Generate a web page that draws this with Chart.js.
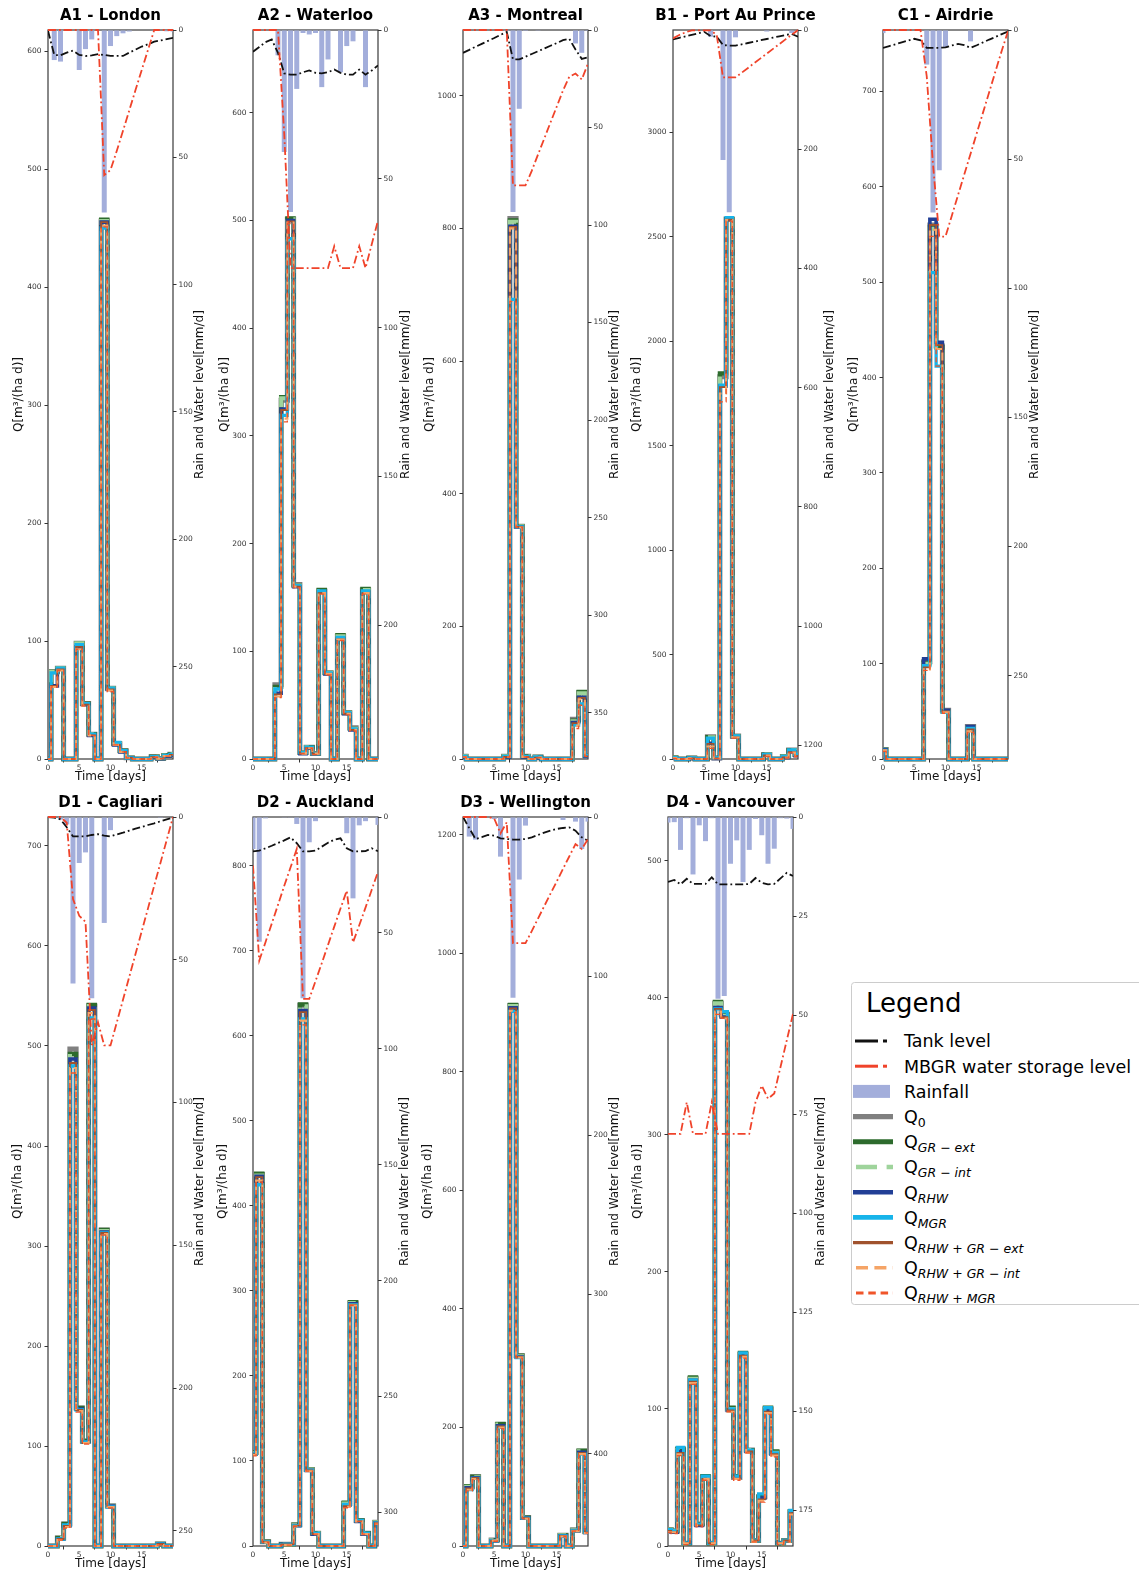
<!DOCTYPE html>
<html>
<head>
<meta charset="utf-8">
<title>Runoff and storage levels</title>
<script src="https://cdn.jsdelivr.net/npm/chart.js@4.4.1/dist/chart.umd.min.js"></script>
<style>
  html, body { margin: 0; padding: 0; background: #fff; width: 1139px; height: 1576px; overflow: hidden; }
  #page { position: relative; width: 1139px; height: 1576px; }
  canvas.panel { position: absolute; }
  #legend { position: absolute; left: 851px; top: 982px; }
</style>
</head>
<body>
<div id="page"></div>
<script>
// ---------------- data ----------------
const days = [0,1,2,3,4,5,6,7,8,9,10,11,12,13,14,15,16,17,18,19,20];
const dayTicks = [0,5,10,15];

const panelTitles = ['A1 - London','A2 - Waterloo','A3 - Montreal','B1 - Port Au Prince','C1 - Airdrie',
                     'D1 - Cagliari','D2 - Auckland','D3 - Wellington','D4 - Vancouver'];

// left axis (Q) range and ticks
const qAxisMax = [617.8, 676.8, 1099, 3490, 764.5, 729, 857.6, 1230, 532];
const qTicks = [
  [0,100,200,300,400,500,600],
  [0,100,200,300,400,500,600],
  [0,200,400,600,800,1000],
  [0,500,1000,1500,2000,2500,3000],
  [0,100,200,300,400,500,600,700],
  [0,100,200,300,400,500,600,700],
  [0,100,200,300,400,500,600,700,800],
  [0,200,400,600,800,1000,1200],
  [0,100,200,300,400,500]
];
// right axis (rain / water level, inverted) range and ticks
const levelAxisMax = [286.3, 245, 373.8, 1223, 282.3, 255.3, 314.5, 458, 184];
const levelTicks = [
  [0,50,100,150,200,250],
  [0,50,100,150,200],
  [0,50,100,150,200,250,300,350],
  [0,200,400,600,800,1000,1200],
  [0,50,100,150,200,250],
  [0,50,100,150,200,250],
  [0,50,100,150,200,250,300],
  [0,100,200,300,400],
  [0,25,50,75,100,125,150,175]
];

const rainfall = [
  [0,11.8,12.4,0,0,15.7,7.5,3.7,0,71.7,6.3,2.4,1.3,0.6,0,0,0,0.3,0,0.5,0.6],
  [0,0,0,0,8.5,41,61.2,19.8,1,1.5,1,19.2,9.9,0,14.2,5.4,3.8,0,19.2,0,0],
  [0.5,0,0,0,0,0,0,0.5,93.3,40.4,0.5,0,0.4,0,0,0,0,0,6.9,11.7,0.5],
  [0.7,0,0,0.6,0,0,11.2,0.6,218,305.8,12.3,0,0,0,0,2.6,0,0,1.4,5.1,2.6],
  [1.2,0,0,0,0,0,0,13.4,70.7,54.3,6.9,0,0,0,4.4,0,0,0,0,0,0],
  [0,0,0.9,2.6,58.3,16.1,12.4,63.5,0,37.1,4.6,0,0,0,0,0,0,0,0.3,0,0],
  [13.8,53.8,0.6,0,0,0.3,0.3,3,78.2,10.9,1.8,0,0,0,0,7,35.1,3.6,1.8,0,3.4],
  [0,12.3,14.2,0,0,1.3,24.9,0,113.6,39.3,5.4,0,0,0,0,0,1.9,0,2.9,20.1,2.9],
  [1.4,1.3,8.3,0.3,14.5,2.1,6.1,0.3,45.9,45.2,11.8,5.9,16.4,8.3,0.5,4.6,11.8,8.0,0.3,0.4,3.0]
];

const tankLevel = [
  [0.3,9.8,9.9,8.9,8.1,9.8,10.2,10,9.5,9.8,10.2,10.2,10.2,8.9,7.7,6.5,5.6,4.6,4.1,3.6,3.1],
  [7.3,5.7,4.1,3.2,7.7,14.6,15,15,14.2,13.6,14.4,14.6,14.2,13.3,14.4,15,15,13.3,15,13.6,11.9],
  [11.7,10.2,8.6,7.1,5.6,4.1,2.5,1.0,15.1,15.1,13.7,12.3,10.9,9.5,8.1,6.7,5.2,4.5,10,14.8,14],
  [15.7,13.1,10.6,8.1,5.6,3.1,10.1,11.2,25.2,26.3,26.3,24,21.8,19.6,17.3,15.1,12.9,10.6,8.4,6.7,11.2],
  [6.9,6.2,5.5,4.8,4.1,3.4,4.0,6.9,6.9,6.9,6.7,6.0,5.4,5.9,6.9,5.9,4.8,3.7,2.7,1.6,0.6],
  [0,0.2,0.8,3.6,6.8,6.8,6.8,6.3,6.0,6.5,6.8,6.1,5.5,4.8,4.1,3.5,2.8,2.2,1.5,0.8,0.2],
  [14.8,14.5,13.5,12.4,11.2,10.1,8.8,11.3,14.8,14.8,14.5,12.8,11.1,9.8,9.2,13.5,14.8,14.8,14.7,13.5,14.8],
  [0,7,13.8,12.7,11.3,11.7,13.4,13.8,14.2,14.2,13.8,12.8,11.3,9.8,8.6,7.5,6.9,6.5,8.6,12.8,14.9],
  [16.4,15.9,17.0,15.6,16.9,16.9,16.9,15.2,17.0,17.0,17.0,17.0,17.0,16.9,15.4,16.6,17.0,16.9,15.5,14.1,14.9]
];

const mbgrLevel = [
  [0,0,0,0,0,0,0,0,0,57,55,47.5,39.6,31.6,23.6,15.7,7.8,0,0,0,0],
  [0,0,0,0,0,35,80,80,80,80,80,80,80,72.7,80,80,80,72.7,80,72,64],
  [0,0,0,0,0,0,0,0,79.7,79.7,79.7,72.2,63.9,55.7,47.4,39.3,31,24,22.3,25.4,17.2],
  [14,8.4,3.9,0.5,0.5,0.5,0.5,8.4,79.4,79.4,79.4,71.6,63.6,55.5,47.6,39.7,31.7,23.7,15.7,7.9,0],
  [0,0,0,0,0,0,0,18,52,80,80,72,64,56,48,40,32,24,16,8,0.5],
  [0,0,0,2,28.7,34.6,36.7,80,71.9,80,80,72,64,56,48,40,32,24,16,8,0],
  [21,62,54,46,37.9,29.7,21.8,13.8,78.5,78.5,70.8,63.1,55.2,47.3,39.5,31.8,54.1,46.7,39.1,31.4,23.6],
  [0,0,0,0,0,1,10.3,3.3,79.3,79.3,79.3,71.7,63.8,56,48.2,40.5,32.6,24.8,17,20.1,13.8],
  [80,80,80,72,80,80,80,72,80,80,80,80,80,80,72,67.8,71.1,69.8,63.1,56.4,49.7]
];

const q0 = [
  [0,74,77,0,0,98,47,21,0,456,60,13,7,1,0,0,0,2,0.5,3,4],
  [0,0,0,0,69,333,501,162,6,11,5,156,80,0,114,43,29,0,157,0,0],
  [4,0,0,0,0,0,0,4,815,351,4,0,3,0,0,0,0,0,60,100,5],
  [6,0,0,5,0,0,107,5,1830,2585,110,0,0,0,0,22,0,0,12,43,22],
  [10,0,0,0,0,0,0,102,560,433,51,0,0,0,34,0,0,0,0,0,0],
  [0,0,8,22,497,138,105,540,0,316,40,0,0,0,0,0,0,0,2,0,0],
  [110,437,5,0,0,2,2,25,636,90,15,0,0,0,0,50,286,30,15,0,28],
  [0,100,117,0,0,10,205,0,912,321,48,0,0,0,0,0,18,0,27,160,24],
  [12,11,70,2,122,16,50,2,396,388,100,50,140,70,4,36,100,68,2,4,25]
];
const qGrExt = [
  [0,74,77,0,0,98,47,21,0,457,60,13,7,1,0,0,0,2,0.5,3,4],
  [0,0,0,0,67,336,502,161,6,11,5,157,80,0,115,43,28,0,158,0,0],
  [4,0,0,0,0,0,0,4,812,351,4,0,3,0,0,0,0,0,58,101,5],
  [6,0,0,5,0,0,105,5,1846,2585,108,0,0,0,0,21,0,0,12,42,21],
  [10,0,0,0,0,0,0,101,558,432,50,0,0,0,33,0,0,0,0,0,0],
  [0,0,8,22,492,138,105,541,0,316,40,0,0,0,0,0,0,0,2,0,0],
  [110,438,5,0,0,2,2,25,637,90,15,0,0,0,0,51,287,30,15,0,28],
  [0,101,117,0,0,10,206,0,913,321,48,0,0,0,0,0,18,0,27,161,24],
  [12,11,71,2,123,16,51,2,397,388,101,51,141,70,4,36,101,69,2,4,25]
];
const qGrInt = [
  [0,74,77,0,0,98,47,21,0,456,60,13,7,1,0,0,0,2,0.5,3,4],
  [0,0,0,0,67,335,501,161,6,11,5,156,80,0,114,43,28,0,157,0,0],
  [4,0,0,0,0,0,0,4,810,351,4,0,3,0,0,0,0,0,57,99,5],
  [6,0,0,5,0,0,104,5,1840,2584,108,0,0,0,0,21,0,0,12,42,21],
  [10,0,0,0,0,0,0,100,556,431,50,0,0,0,33,0,0,0,0,0,0],
  [0,0,8,21,490,137,104,540,0,315,40,0,0,0,0,0,0,0,2,0,0],
  [109,436,5,0,0,2,2,25,635,90,15,0,0,0,0,50,286,30,15,0,28],
  [0,100,116,0,0,10,205,0,911,320,48,0,0,0,0,0,18,0,27,160,24],
  [12,11,70,2,122,16,50,2,396,387,100,50,140,70,4,36,100,68,2,4,25]
];
const qRhw = [
  [0,62,76,0,0,95,46,20,0,455,59,12,6,1,0,0,0,1.5,0.3,2.5,3.5],
  [0,0,0,0,61,325,500,160,5,10,5,155,79,0,112,42,27,0,155,0,0],
  [3,0,0,0,0,0,0,3,803,350,3,0,2,0,0,0,0,0,55,93,4],
  [4,0,0,3,0,0,75,3,1786,2583,105,0,0,0,0,18,0,0,8,34,16],
  [10,0,0,0,0,0,0,105,566,437,51,0,0,0,34,0,0,0,0,0,0],
  [0,0,7,20,487,137,104,538,0,314,40,0,0,0,0,0,0,0,2,0,0],
  [108,435,5,0,0,2,2,24,630,89,14,0,0,0,0,48,285,29,14,0,27],
  [0,98,115,0,0,9,203,0,908,319,47,0,0,0,0,0,17,0,26,158,23],
  [11,10,69,2,121,15,50,2,393,386,99,50,139,69,4,35,99,67,2,4,24]
];
const qMgr = [
  [0,73,77,0,0,97,47,21,0,450,60,14,7,1,0,0,0,2,0.5,3,4],
  [0,0,0,0,65,319,483,161,6,11,5,156,80,0,113,43,28,0,156,0,0],
  [4,0,0,0,0,0,0,4,693,350,4,0,3,0,0,0,0,0,51,83,5],
  [6,0,0,5,0,0,100,5,1790,2592,110,0,0,0,0,22,0,0,12,43,22],
  [9,0,0,0,0,0,0,98,510,412,49,0,0,0,32,0,0,0,0,0,0],
  [0,0,7,21,480,136,104,528,0,313,39,0,0,0,0,0,0,0,2,0,0],
  [108,425,5,0,0,2,2,24,620,89,15,0,0,0,0,49,284,30,15,0,27],
  [0,95,114,0,0,9,200,0,902,318,47,0,0,0,0,0,17,0,26,155,23],
  [12,11,72,2,121,16,51,2,392,390,100,51,141,70,4,38,101,68,2,4,26]
];
const qRhwGrExt = [
  [0,62,76,0,0,95,46,20,0,455,59,12,6,1,0,0,0,1.5,0.3,2.5,3.5],
  [0,0,0,0,60,324,499,160,5,10,5,154,79,0,111,42,27,0,154,0,0],
  [3,0,0,0,0,0,0,3,802,350,3,0,2,0,0,0,0,0,54,92,4],
  [4,0,0,3,0,0,72,3,1780,2582,104,0,0,0,0,17,0,0,8,33,15],
  [9,0,0,0,0,0,0,96,560,434,50,0,0,0,31,0,0,0,0,0,0],
  [0,0,7,20,483,136,103,536,0,313,39,0,0,0,0,0,0,0,2,0,0],
  [108,434,5,0,0,2,2,24,628,89,14,0,0,0,0,47,284,29,14,0,27],
  [0,97,115,0,0,9,202,0,907,319,47,0,0,0,0,0,17,0,26,157,23],
  [11,10,68,2,120,15,49,2,392,386,99,49,139,69,4,34,98,67,2,4,24]
];
const qRhwGrInt = [
  [0,61,75,0,0,93,45,20,0,452,58,12,6,1,0,0,0,1.5,0.3,2.5,3.5],
  [0,0,0,0,58,316,498,160,5,10,5,154,79,0,111,42,27,0,154,0,0],
  [3,0,0,0,0,0,0,3,800,349,3,0,2,0,0,0,0,0,50,90,4],
  [4,0,0,3,0,0,60,3,1750,2580,103,0,0,0,0,16,0,0,7,31,13],
  [9,0,0,0,0,0,0,94,555,430,49,0,0,0,29,0,0,0,0,0,0],
  [0,0,6,19,478,135,103,533,0,312,39,0,0,0,0,0,0,0,1,0,0],
  [107,430,4,0,0,1,1,23,618,88,14,0,0,0,0,46,283,29,14,0,26],
  [0,95,113,0,0,9,200,0,903,318,46,0,0,0,0,0,16,0,25,155,22],
  [10,10,67,2,119,15,49,2,390,385,98,49,138,68,3,33,97,66,2,3,23]
];
const qRhwMgr = [
  [0,61,75,0,0,93,45,20,0,451,57,12,6,1,0,0,0,1.5,0.3,2.5,3.5],
  [0,0,0,0,57,313,497,159,5,10,4,153,78,0,110,41,26,0,153,0,0],
  [3,0,0,0,0,0,0,3,690,349,3,0,2,0,0,0,0,0,46,81,4],
  [3,0,0,2,0,0,51,2,1710,2575,100,0,0,0,0,12,0,0,5,29,10],
  [8,0,0,0,0,0,0,93,548,412,48,0,0,0,28,0,0,0,0,0,0],
  [0,0,6,18,473,134,102,527,0,311,38,0,0,0,0,0,0,0,1,0,0],
  [106,428,4,0,0,1,1,23,613,88,14,0,0,0,0,45,283,29,14,0,26],
  [0,93,112,0,0,8,198,0,900,317,46,0,0,0,0,0,16,0,25,153,22],
  [10,9,66,1,118,14,48,1,388,385,98,48,137,68,3,32,96,65,1,3,22]
];

// ---------------- styles and layout ----------------
const FONT = 'DejaVu Sans';
const Q_LABEL = 'Q[m\u00b3/(ha d)]';
const LEVEL_LABEL = 'Rain and Water level[mm/d]';
const TIME_LABEL = 'Time [days]';

const RAIN_COLOR = '#a3aedb';
const TANK_COLOR = '#111111';
const MBGR_COLOR = '#f0432a';

// runoff series, drawn bottom (first) to top (last)
const flowSeries = [
  { values: q0,        color: '#808080', width: 5,   dash: [],      legendWidth: 5.3 },
  { values: qGrExt,    color: '#2d6b2d', width: 4.3, dash: [],      legendWidth: 5 },
  { values: qGrInt,    color: '#9fd49c', width: 4,   dash: [14, 6], legendWidth: 4.5 },
  { values: qRhw,      color: '#223f96', width: 3.6, dash: [],      legendWidth: 4.6 },
  { values: qMgr,      color: '#17b4ea', width: 3.3, dash: [],      legendWidth: 4.6 },
  { values: qRhwGrExt, color: '#a0522d', width: 1.8, dash: [],      legendWidth: 3.4 },
  { values: qRhwGrInt, color: '#f5a466', width: 2.1, dash: [8, 4],  legendWidth: 3.4 },
  { values: qRhwMgr,   color: '#f0552a', width: 1.3, dash: [5, 3],  legendWidth: 3 }
];

// plot-area origin of each panel
const panelBoxes = [
  {x: 48,  y: 30}, {x: 253, y: 30}, {x: 463, y: 30}, {x: 673, y: 30}, {x: 883, y: 30},
  {x: 48,  y: 817}, {x: 253, y: 817}, {x: 463, y: 817}, {x: 668, y: 817}
];
const leftLabelGap  = [29.5, 28, 33, 36, 29, 30, 30, 35, 30];
const rightLabelGap = [27, 28, 27, 32, 27, 27, 27, 27, 28];

const PLOT_W = 125, PLOT_H = 729;
const LEFT_GUTTER = 45, RIGHT_GUTTER = 42, XAXIS_H = 30;

Chart.defaults.font.family = FONT;

function toXY(vals) { return vals.map((v, i) => ({ x: days[i], y: v })); }

// frame around the plot area, drawn under the data
const framePlugin = {
  id: 'frame',
  beforeDatasetsDraw(chart) {
    const a = chart.chartArea, ctx = chart.ctx;
    ctx.save();
    ctx.strokeStyle = '#3a3a3a';
    ctx.lineWidth = 1.2;
    ctx.strokeRect(a.left, a.top, a.right - a.left, a.bottom - a.top);
    ctx.restore();
  }
};

// panel title and axis titles
const textPlugin = {
  id: 'panelText',
  afterDraw(chart) {
    const o = chart.options.plugins.panelText;
    const a = chart.chartArea, ctx = chart.ctx;
    const cx = (a.left + a.right) / 2, cy = (a.top + a.bottom) / 2;
    ctx.save();
    ctx.fillStyle = '#000';
    ctx.textAlign = 'center';
    ctx.textBaseline = 'middle';
    ctx.font = 'bold 15px "' + FONT + '"';
    ctx.fillText(o.title, cx, a.top - 13.5);
    ctx.font = '12px "' + FONT + '"';
    ctx.fillStyle = '#111';
    ctx.fillText(TIME_LABEL, cx, a.bottom + 18);
    ctx.save();
    ctx.translate(a.left - o.leftGap, cy);
    ctx.rotate(-Math.PI / 2);
    ctx.fillText(Q_LABEL, 0, 0);
    ctx.restore();
    ctx.save();
    ctx.translate(a.right + o.rightGap, cy);
    ctx.rotate(-Math.PI / 2);
    ctx.fillText(LEVEL_LABEL, 0, 0);
    ctx.restore();
    ctx.restore();
  }
};

const tickGrid = { display: true, drawOnChartArea: false, drawTicks: true, tickLength: 3.5, color: '#333', lineWidth: 1 };
const tickFont = { family: FONT, size: 7.5 };
const lineClip = { left: 0, top: 3, right: 0, bottom: 3 };

const page = document.getElementById('page');

panelBoxes.forEach((box, p) => {
  const canvasTop = p < 5 ? 0 : 790;
  const padTop = box.y - canvasTop;
  const w = LEFT_GUTTER + PLOT_W + RIGHT_GUTTER;
  const h = padTop + PLOT_H + XAXIS_H;
  const canvas = document.createElement('canvas');
  canvas.className = 'panel';
  canvas.width = w; canvas.height = h;
  canvas.style.left = (box.x - LEFT_GUTTER) + 'px';
  canvas.style.top = canvasTop + 'px';
  canvas.style.width = w + 'px';
  canvas.style.height = h + 'px';
  page.appendChild(canvas);

  const datasets = [];
  datasets.push({
    type: 'bar', data: toXY(rainfall[p]), xAxisID: 'x', yAxisID: 'yR',
    backgroundColor: RAIN_COLOR, borderWidth: 0,
    barPercentage: 0.8, categoryPercentage: 1.0, order: 30
  });
  flowSeries.forEach((s, k) => {
    datasets.push({
      type: 'line', data: toXY(s.values[p]), xAxisID: 'x', yAxisID: 'yL',
      borderColor: s.color, borderWidth: s.width, borderDash: s.dash,
      stepped: 'middle', pointRadius: 0, fill: false, tension: 0,
      borderCapStyle: 'butt', borderJoinStyle: 'miter',
      clip: lineClip, order: 20 - k
    });
  });
  datasets.push({
    type: 'line', data: toXY(tankLevel[p]), xAxisID: 'x', yAxisID: 'yR',
    borderColor: TANK_COLOR, borderWidth: 1.8, borderDash: [8, 3, 1.8, 3],
    pointRadius: 0, fill: false, tension: 0, clip: lineClip, order: 2
  });
  datasets.push({
    type: 'line', data: toXY(mbgrLevel[p]), xAxisID: 'x', yAxisID: 'yR',
    borderColor: MBGR_COLOR, borderWidth: 1.8, borderDash: [8, 3, 1.8, 3],
    pointRadius: 0, fill: false, tension: 0, clip: lineClip, order: 1
  });

  new Chart(canvas, {
    type: 'line',
    data: { datasets },
    plugins: [framePlugin, textPlugin],
    options: {
      responsive: false,
      maintainAspectRatio: false,
      devicePixelRatio: 1,
      animation: false,
      events: [],
      layout: { padding: { top: padTop, left: 0, right: 0, bottom: 0 } },
      plugins: {
        legend: { display: false },
        tooltip: { enabled: false },
        panelText: { title: panelTitles[p], leftGap: leftLabelGap[p], rightGap: rightLabelGap[p] }
      },
      scales: {
        x: {
          type: 'linear', min: 0, max: 20, offset: false,
          afterBuildTicks: s => { s.ticks = dayTicks.map(v => ({ value: v })); },
          afterFit: s => { s.height = XAXIS_H; },
          grid: tickGrid, border: { display: false },
          ticks: { font: tickFont, color: '#333', padding: 1, maxRotation: 0, autoSkip: false,
                   callback: v => String(v) }
        },
        yL: {
          type: 'linear', position: 'left', min: 0, max: qAxisMax[p],
          afterBuildTicks: s => { s.ticks = qTicks[p].map(v => ({ value: v })); },
          afterFit: s => { s.width = LEFT_GUTTER; },
          grid: tickGrid, border: { display: false },
          ticks: { font: tickFont, color: '#333', padding: 3, autoSkip: false, callback: v => String(v) }
        },
        yR: {
          type: 'linear', position: 'right', min: 0, max: levelAxisMax[p], reverse: true,
          afterBuildTicks: s => { s.ticks = levelTicks[p].map(v => ({ value: v })); },
          afterFit: s => { s.width = RIGHT_GUTTER; },
          grid: tickGrid, border: { display: false },
          ticks: { font: tickFont, color: '#333', padding: 2, autoSkip: false, callback: v => String(v) }
        }
      }
    }
  });
});

// ---------------- legend ----------------
const legendRows = [
  { text: 'Tank level', kind: 'dashdot', color: TANK_COLOR },
  { text: 'MBGR water storage level', kind: 'dashdot', color: MBGR_COLOR },
  { text: 'Rainfall', kind: 'patch', color: RAIN_COLOR },
  { sub: ['0'], upright: true, s: flowSeries[0] },
  { sub: ['GR', 'ext'], s: flowSeries[1] },
  { sub: ['GR', 'int'], s: flowSeries[2] },
  { sub: ['RHW'], s: flowSeries[3] },
  { sub: ['MGR'], s: flowSeries[4] },
  { sub: ['RHW + GR', 'ext'], s: flowSeries[5] },
  { sub: ['RHW + GR', 'int'], s: flowSeries[6] },
  { sub: ['RHW + MGR'], s: flowSeries[7] }
];

(function buildLegend() {
  const W = 300, H = 323;
  let svg = '<svg id="legend" xmlns="http://www.w3.org/2000/svg" width="' + W + '" height="' + H + '" font-family="DejaVu Sans">';
  svg += '<rect x="0.5" y="0.5" width="' + (W - 1) + '" height="' + (H - 1) + '" rx="3" fill="#fff" stroke="#cccccc" stroke-width="1"/>';
  svg += '<text x="15" y="30" font-size="26" fill="#000">Legend</text>';
  legendRows.forEach((r, i) => {
    const cy = 59 + i * 25.2;
    if (r.kind === 'dashdot') {
      svg += '<line x1="4" y1="' + cy + '" x2="27" y2="' + cy + '" stroke="' + r.color + '" stroke-width="3"/>';
      svg += '<line x1="32" y1="' + cy + '" x2="36" y2="' + cy + '" stroke="' + r.color + '" stroke-width="3"/>';
    } else if (r.kind === 'patch') {
      svg += '<rect x="2" y="' + (cy - 6.5) + '" width="37" height="13" fill="' + r.color + '"/>';
    } else {
      const s = r.s;
      const dash = s.dash.length ? ' stroke-dasharray="' + (s.dash[0] * 1.5) + ' ' + (s.dash[1] * 1.6) + '"' : '';
      svg += '<line x1="' + (s.dash.length ? 5 : 2) + '" y1="' + cy + '" x2="42" y2="' + cy + '" stroke="' + s.color + '" stroke-width="' + s.legendWidth + '"' + dash + '/>';
    }
    svg += '<text x="53" y="' + (cy + 6.3) + '" font-size="17.5" fill="#000">';
    if (r.text) {
      svg += r.text;
    } else {
      svg += 'Q';
      if (r.upright) {
        svg += '<tspan dy="4" font-size="12.5">' + r.sub[0] + '</tspan>';
      } else {
        svg += '<tspan dy="4" font-size="12.5" font-style="italic">' + r.sub[0] + '</tspan>';
        if (r.sub.length > 1) {
          svg += '<tspan font-size="12.5"> \u2212 </tspan><tspan font-size="12.5" font-style="italic">' + r.sub[1] + '</tspan>';
        }
      }
    }
    svg += '</text>';
  });
  svg += '</svg>';
  page.insertAdjacentHTML('beforeend', svg);
})();
</script>
</body>
</html>
